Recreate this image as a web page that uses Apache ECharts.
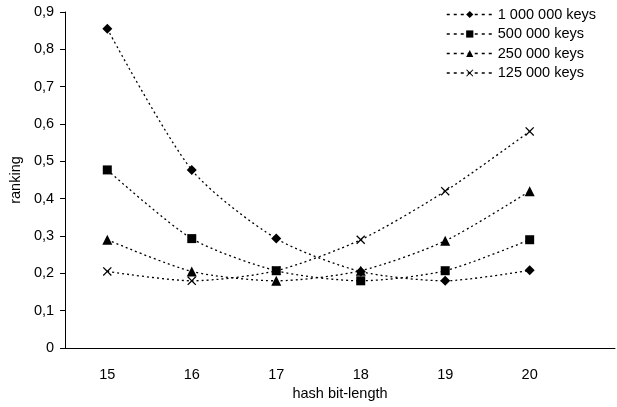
<!DOCTYPE html>
<html>
<head>
<meta charset="utf-8">
<style>
  html, body { margin: 0; padding: 0; background: #fff; }
  #chart { width: 617px; height: 407px; }
</style>
</head>
<body>
<div id="chart"></div>
<script src="https://cdn.jsdelivr.net/npm/echarts@6/dist/echarts.min.js"></script>
<script>
const chart = echarts.init(document.getElementById('chart'));

// hash bit-length values on the x axis
const bitLengths = [15, 16, 17, 18, 19, 20];
const yTicks = [0, 0.1, 0.2, 0.3, 0.4, 0.5, 0.6, 0.7, 0.8, 0.9];

const seriesNames = ['1 000 000 keys', '500 000 keys', '250 000 keys', '125 000 keys'];
const keys1000k = [0.855, 0.477, 0.293, 0.205, 0.18, 0.208];
const keys500k = [0.477, 0.293, 0.207, 0.18, 0.207, 0.29];
const keys250k = [0.29, 0.205, 0.18, 0.207, 0.287, 0.42];
const keys125k = [0.205, 0.18, 0.207, 0.29, 0.42, 0.58];

const FONT = 'Liberation Sans, Arial, sans-serif';
const FS = 14.5;
const crossPath = 'path://M0,1L1,0L5,4L9,0L10,1L6,5L10,9L9,10L5,6L1,10L0,9L4,5Z';

function pairs(values) {
  return bitLengths.map((x, i) => [x, values[i]]);
}

function makeSeries(name, values, symbol, size) {
  return {
    name: name,
    type: 'line',
    data: pairs(values),
    smooth: 0.25,
    symbol: symbol,
    symbolSize: size,
    showAllSymbol: true,
    lineStyle: { color: '#000', width: 1.3, type: [2, 3] },
    itemStyle: { color: '#000' },
    emphasis: { disabled: true }
  };
}

const option = {
  animation: false,
  textStyle: { fontFamily: FONT },
  grid: { left: 64, right: 2, top: 12, bottom: 59 },
  legend: {
    orient: 'vertical',
    left: 441,
    top: 2,
    itemWidth: 46,
    itemHeight: 9,
    itemGap: 4.5,
    data: seriesNames,
    lineStyle: { type: [3, 4], width: 1.5 },
    textStyle: { fontFamily: FONT, fontSize: FS, color: '#000' }
  },
  xAxis: {
    type: 'value',
    min: 14.5,
    max: 21.01,
    name: 'hash bit-length',
    nameLocation: 'middle',
    nameGap: 36,
    nameTextStyle: { fontFamily: FONT, fontSize: FS, color: '#000' },
    splitLine: { show: false },
    axisTick: { show: false },
    axisLine: { lineStyle: { color: '#000', width: 1 } },
    axisLabel: {
      customValues: bitLengths,
      margin: 19,
      fontSize: FS,
      color: '#000',
      fontFamily: FONT
    }
  },
  yAxis: {
    type: 'value',
    min: 0,
    max: 0.9,
    interval: 0.1,
    name: 'ranking',
    nameLocation: 'middle',
    nameGap: 40,
    nameTextStyle: { fontFamily: FONT, fontSize: FS, color: '#000' },
    splitLine: { show: false },
    axisLine: { show: true, lineStyle: { color: '#000', width: 1 } },
    axisTick: { show: true, length: 5, lineStyle: { color: '#000' } },
    axisLabel: {
      margin: 11,
      fontSize: FS,
      color: '#000',
      fontFamily: FONT,
      formatter: v => {
        const t = yTicks.find(k => Math.abs(k - v) < 1e-6);
        return t === 0 ? '0' : String(Math.round(v * 10) / 10).replace('.', ',');
      }
    }
  },
  series: [
    makeSeries(seriesNames[0], keys1000k, 'diamond', 10),
    makeSeries(seriesNames[1], keys500k, 'rect', 9),
    makeSeries(seriesNames[2], keys250k, 'triangle', 10),
    makeSeries(seriesNames[3], keys125k, crossPath, 9)
  ]
};

chart.setOption(option);
</script>
</body>
</html>
